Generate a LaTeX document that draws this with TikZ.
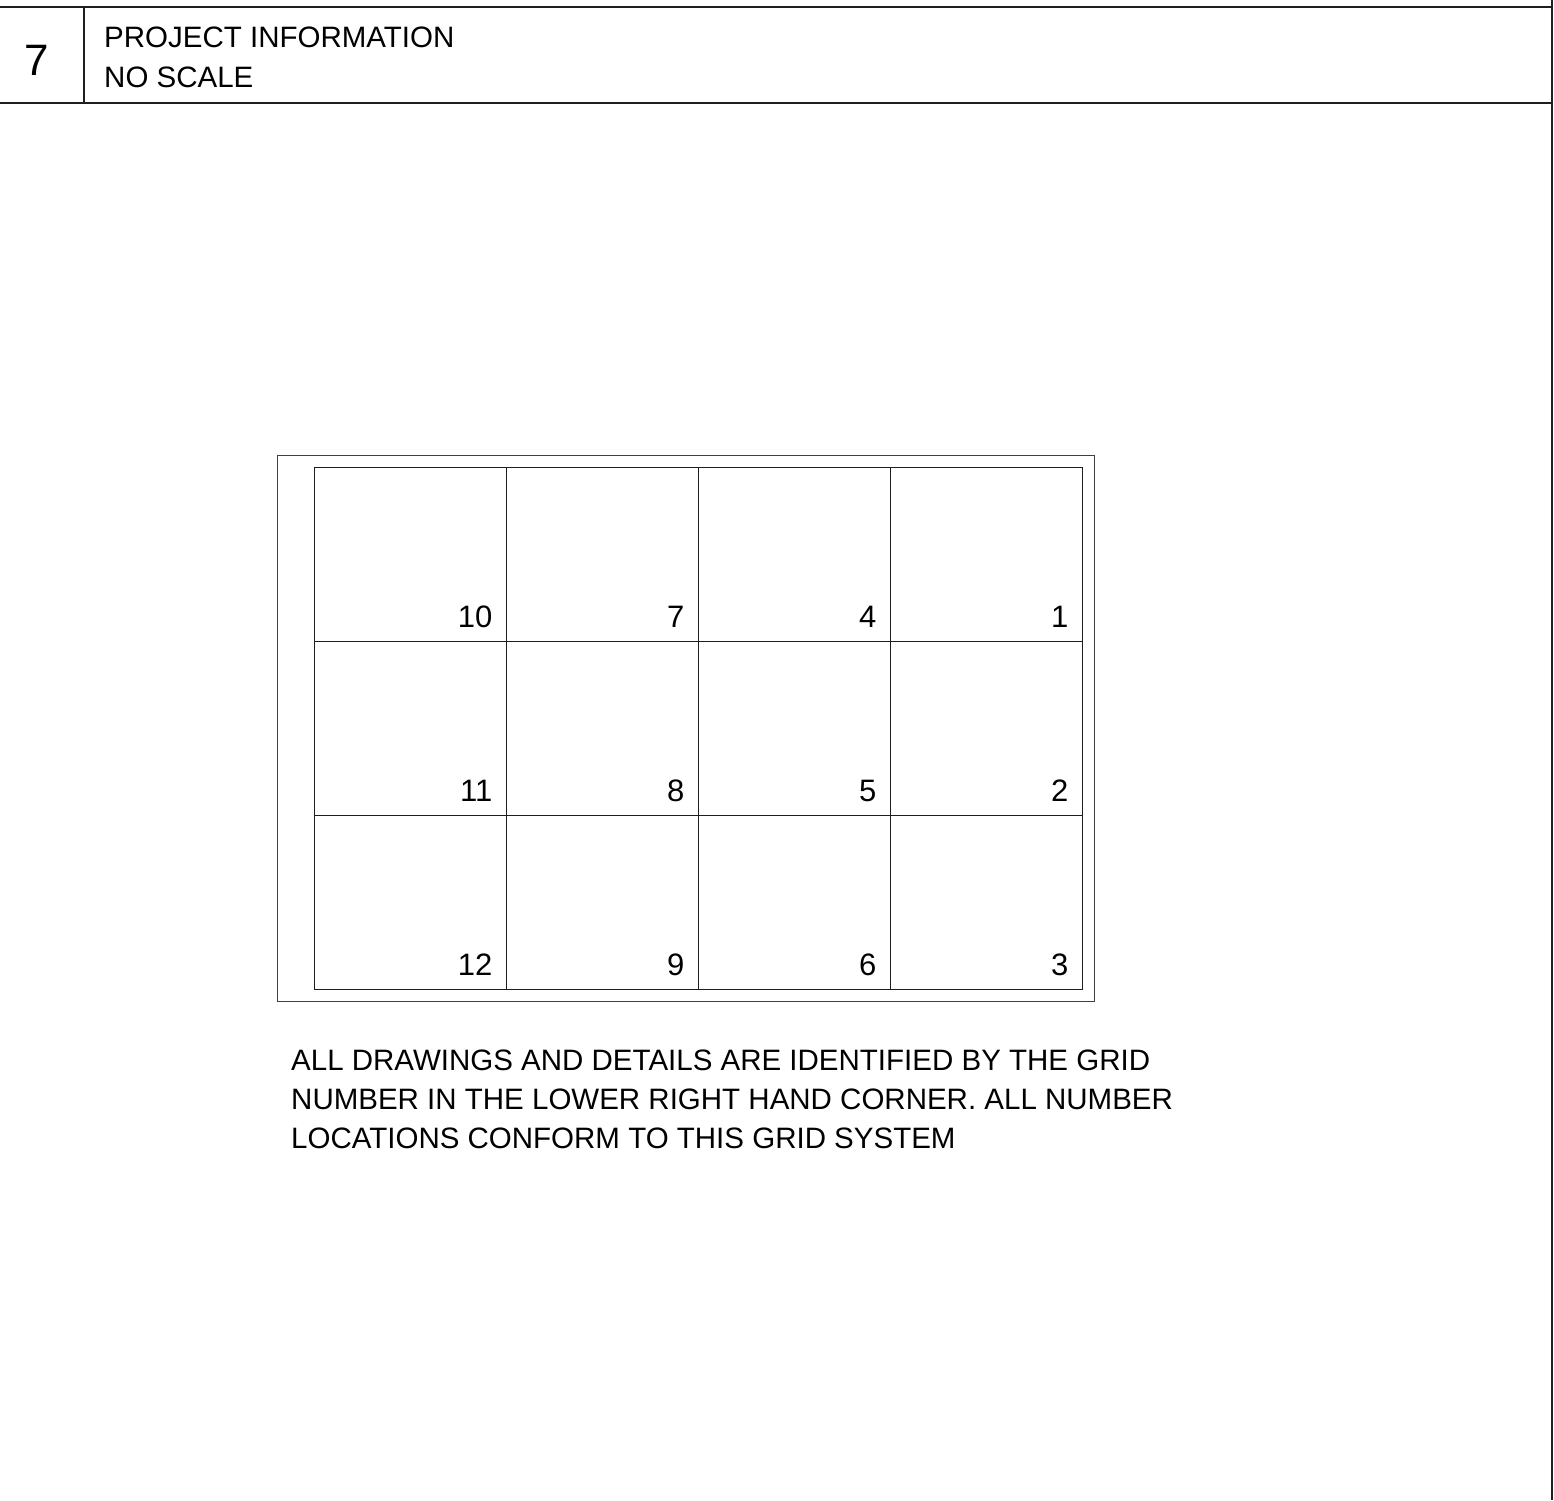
\documentclass[tikz,border=0pt]{standalone}
\usepackage{fontspec}
\setmainfont{Liberation Sans}
\usetikzlibrary{positioning,calc}
\definecolor{sheetInk}{RGB}{30,30,30}
\tikzset{
    sheetLine/.style={draw=sheetInk, line width=1.5pt},
    gridFrame/.style={
        rectangle,
        draw=sheetInk!85,
        line width=1pt,
        minimum width=817pt,
        minimum height=546pt,
        inner sep=0pt
    },
    gridCell/.style={
        rectangle,
        draw=sheetInk,
        line width=1pt,
        minimum width=192pt,
        minimum height=174pt,
        inner sep=0pt
    },
    gridNum/.style={font=\fontsize{31}{36}\selectfont, anchor=base east, inner sep=0pt},
    titleText/.style={font=\fontsize{29.5}{34}\selectfont, anchor=base west, inner sep=0pt},
    noteText/.style={font=\fontsize{29.5}{39}\selectfont, anchor=base west, inner sep=0pt}
}
\begin{document}
\begin{tikzpicture}[x=1pt, y=-1pt]
\useasboundingbox (0,0) rectangle (1554,1500);

% Title strip and sheet edge
\draw[sheetLine] (0,7) -- (1552,7);
\draw[sheetLine] (0,103) -- (1552,103);
\draw[sheetLine] (84,7) -- (84,103);
\draw[draw=sheetInk, line width=2pt] (1552,0) -- (1552,1500);
\node[font=\fontsize{44}{48}\selectfont, anchor=base, inner sep=0pt] (sheetNo) at (37,75) {7};
\node[titleText] (title) at (104,47) {PROJECT INFORMATION};
\node[titleText] (scale) at (104,87) {NO SCALE};

% Grid frame
\node[gridFrame] (frame) at (685.5,728) {};

% Grid cells, numbered from the upper right corner down each column
\foreach \c in {0,...,3} {
    \foreach \r in {0,...,2} {
        \pgfmathtruncatemacro{\n}{3*(3-\c)+\r+1}
        \node[gridCell] (cell\n) at (410+192*\c, 554+174*\r) {};
        \node[gridNum] (num\n) at ([xshift=-14pt, yshift=14pt]cell\n.south east) {\n};
    }
}

% Note
\node[noteText] (note1) at (291,1070) {ALL DRAWINGS AND DETAILS ARE IDENTIFIED BY THE GRID};
\node[noteText] (note2) at (291,1109) {NUMBER IN THE LOWER RIGHT HAND CORNER. ALL NUMBER};
\node[noteText] (note3) at (291,1148) {LOCATIONS CONFORM TO THIS GRID SYSTEM};
\end{tikzpicture}
\end{document}
